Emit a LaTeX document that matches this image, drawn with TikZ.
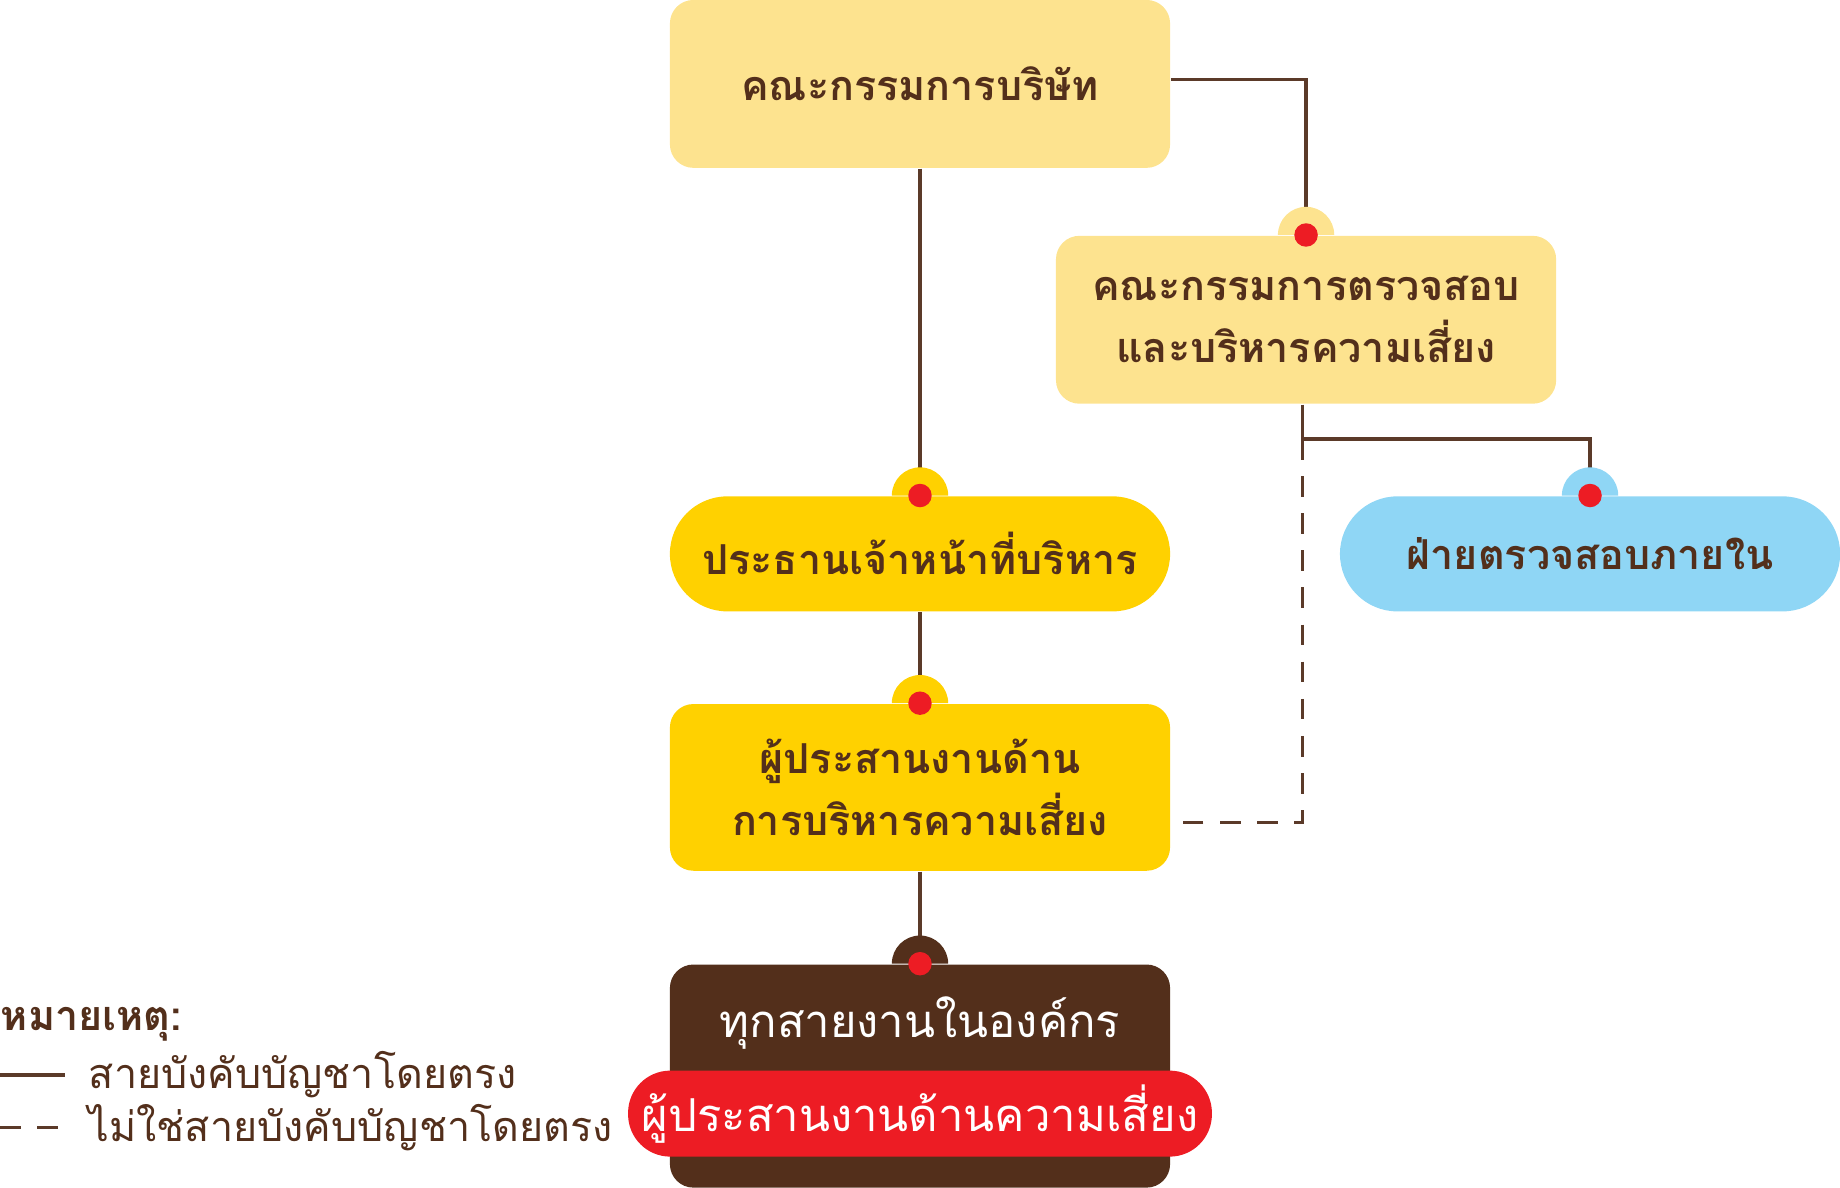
\documentclass[tikz,border=0pt]{standalone}
\usepackage{fontspec}
\newfontfamily\thaifont[Script=Thai]{Loma}
\usetikzlibrary{positioning}
\definecolor{lineC}{RGB}{91,58,41}
\definecolor{paleC}{RGB}{253,227,143}
\definecolor{goldC}{RGB}{255,209,0}
\definecolor{skyC}{RGB}{143,214,245}
\definecolor{brownC}{RGB}{83,47,27}
\definecolor{redC}{RGB}{237,28,36}
\begin{document}
\begin{tikzpicture}[x=0.01cm, y=-0.01cm,
    box/.style={rectangle, rounded corners=0.2cm, minimum width=4.26cm,
                font=\thaifont\bfseries\fontsize{10}{15}\selectfont, text=brownC, align=center},
    pill/.style={box, rounded corners=0.49cm, minimum height=0.98cm},
    link/.style={lineC, line width=0.8pt},
    bump/.style={circle, minimum size=0.48cm, inner sep=0pt},
    dot/.style={circle, fill=redC, minimum size=0.2cm, inner sep=0pt}
]
\useasboundingbox (0,0) rectangle (1568,1012);

% boxes
\node[box, fill=paleC, minimum height=1.43cm] (board) at (784,71.5) {คณะกรรมการบริษัท};
\node[box, fill=paleC, minimum height=1.43cm] (audit) at (1113,272.5) {คณะกรรมการตรวจสอบ\\และบริหารความเสี่ยง};
\node[pill, fill=goldC] (ceo) at (784,472) {ประธานเจ้าหน้าที่บริหาร};
\node[pill, fill=skyC] (internal) at (1355,472) {ฝ่ายตรวจสอบภายใน};
\node[box, fill=goldC, minimum height=1.42cm] (riskco) at (784,671) {ผู้ประสานงานด้าน\\การบริหารความเสี่ยง};

% connectors
\coordinate (split) at (1110,374);
\draw[link] (board.east |- 0,68) -| (audit.north);
\draw[link] (board.south) -- (ceo.north);
\draw[link] (ceo.south) -- (riskco.north);
\draw[link] (audit.south -| split) -- (split) -| (internal.north);
\draw[link, dashed, dash pattern=on 5pt off 4pt] (split) |- (riskco.east |- 0,701);

% all units
\node[box, fill=brownC, minimum height=1.9cm] (units) at (784,917) {};
\node[font=\thaifont\fontsize{11}{13}\selectfont, text=white] (unitstxt) at (784,872) {ทุกสายงานในองค์กร};
\node[pill, fill=redC, minimum width=3.72cm, minimum height=0.72cm, rounded corners=0.36cm,
      font=\thaifont\fontsize{11}{13}\selectfont, text=white] (riskall) at (784,949) {ผู้ประสานงานด้านความเสี่ยง};
\draw[link] (riskco.south) -- (units.north);

% bumps with red dots
\begin{scope}[on background layer/.try]
\end{scope}
\foreach \n/\c in {audit/paleC, ceo/goldC, internal/skyC, riskco/goldC, units/brownC}{
  \fill[\c] (\n.north) ++(-24,0) arc[start angle=180, end angle=0, radius=0.24cm] -- cycle;
  \node[dot] at (\n.north) {};
}

% legend
\node[anchor=west, inner sep=0pt, font=\thaifont\bfseries\fontsize{10}{12}\selectfont, text=brownC] (legend) at (0,873) {หมายเหตุ:};
\coordinate (solidA) at (0,916);
\coordinate (solidB) at (55,916);
\coordinate (dashA) at (0,961);
\coordinate (dashB) at (55,961);
\draw[link] (solidA) -- (solidB);
\draw[link, dashed, dash pattern=on 5pt off 4pt] (dashA) -- (dashB);
\node[anchor=west, inner sep=0pt, font=\thaifont\fontsize{10}{12}\selectfont, text=brownC] (solidtxt) at (75,916) {สายบังคับบัญชาโดยตรง};
\node[anchor=west, inner sep=0pt, font=\thaifont\fontsize{10}{12}\selectfont, text=brownC] (dashtxt) at (75,961) {ไม่ใช่สายบังคับบัญชาโดยตรง};
\end{tikzpicture}
\end{document}
